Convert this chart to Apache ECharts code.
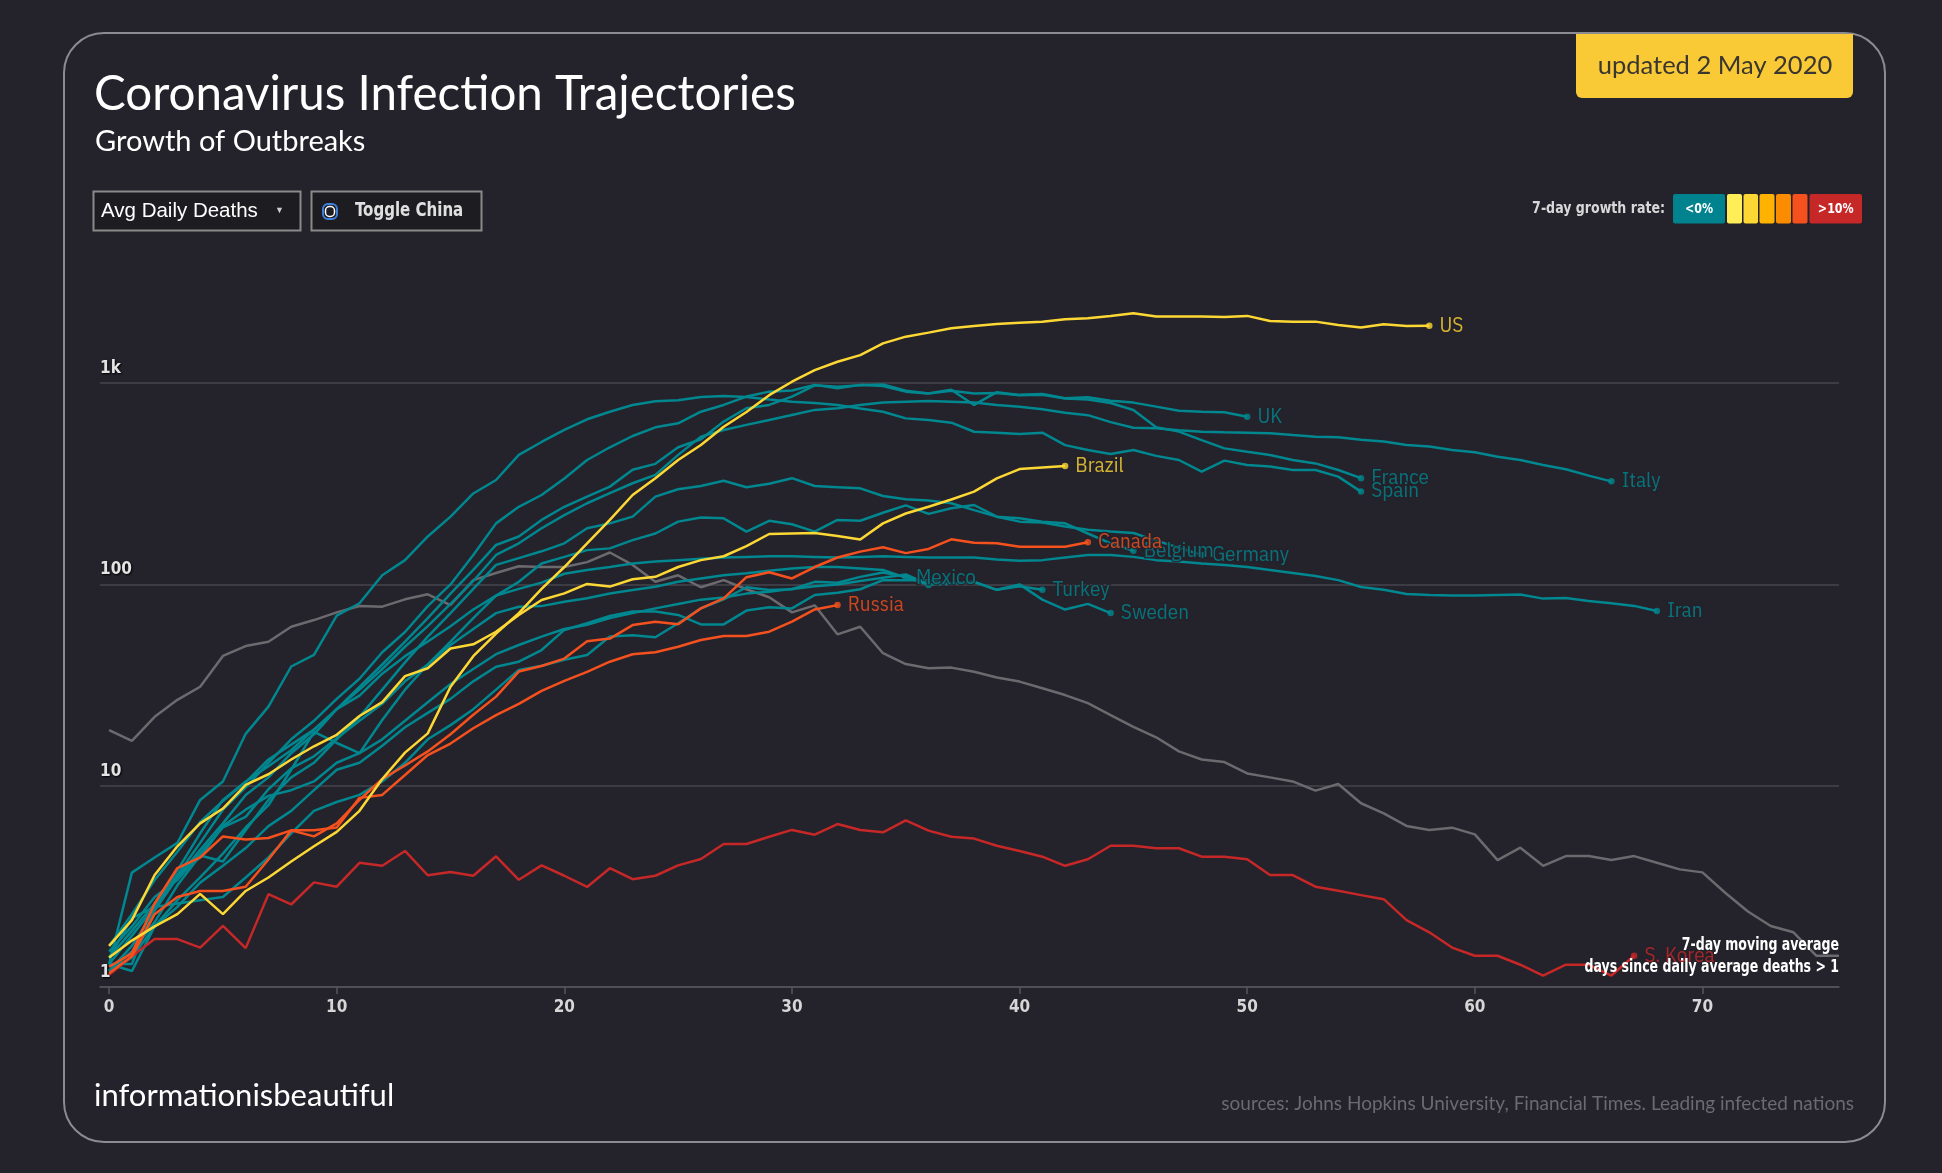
<!DOCTYPE html>
<html><head><meta charset="utf-8">
<style>html,body{margin:0;padding:0;background:#24222b;}#c{width:1942px;height:1173px;}</style>
<script src="https://cdn.jsdelivr.net/npm/echarts@6/dist/echarts.min.js"></script>
</head><body><div id="c"></div><script>
// ---- data: 7-day average daily deaths, index = days since average > 1 ----
const X_TICKS = [0, 10, 20, 30, 40, 50, 60, 70];
const Y_TICKS = [1, 10, 100, 1000];
const US = [1.4,1.7,2.0,2.3,2.9,2.3,3.0,3.5,4.2,5.0,5.9,7.5,10.8,14.6,18.2,31,44,57,72,95,122,160,209,278,337,415,493,607,719,871,1016,1161,1277,1377,1575,1701,1781,1872,1923,1967,1997,2020,2075,2099,2157,2223,2141,2141,2141,2127,2157,2034,2020,2020,1945,1888,1960,1923,1928];
const Brazil = [1.6,2.15,3.6,5.0,6.5,7.7,10.1,11.4,13.5,15.7,17.9,22.2,26,35,38.3,48,50.4,58.2,70.5,83.6,90.2,100.5,97.5,106,109,122,132,138,155,178,179,180,174,167,201,225,243,264,289,336,374,381,387];
const Canada = [1.17,1.42,2.3,2.8,3.0,3.0,3.15,4.3,6.0,5.6,6.5,8.5,10.8,12.6,14.8,18,22.5,27.7,36.9,39.3,42.8,52.2,53.8,62.8,65.3,63.4,76,85.3,108.6,115,107,122,136,145.5,153,143,150,167.5,161,160,154,154,154,162];
const Russia = [1.26,1.47,2.6,3.9,4.4,5.6,5.4,5.5,6.0,6.0,6.2,8.7,9.0,11.3,14.2,16.2,19.3,22.4,25.5,29.6,33.2,36.8,41.3,45,46,49,52.9,55.4,55.4,58.2,65.3,75.1,78.9];
const SKorea = [1.15,1.42,1.73,1.73,1.57,2.01,1.56,2.89,2.57,3.31,3.15,4.14,4.0,4.74,3.59,3.73,3.57,4.46,3.41,4.02,3.57,3.14,3.89,3.43,3.57,4.02,4.32,5.13,5.13,5.58,6.03,5.71,6.45,6.03,5.87,6.73,5.98,5.58,5.46,5.03,4.74,4.44,4.0,4.31,5.03,5.03,4.89,4.89,4.44,4.44,4.31,3.6,3.6,3.15,3.01,2.86,2.73,2.15,1.87,1.57,1.43,1.43,1.29,1.14,1.29,1.29,1.14,1.43];
const China = [18.9,16.7,22.0,26.7,31.0,44.1,49.4,51.9,61.6,66.5,72.6,78.1,77.5,84.3,89.3,79,105,114,123,122,122,129,144,125,103,111,96.8,105,94.6,86.3,72.6,78.7,56.5,61.6,45.5,40.2,38.3,38.6,36.8,34.5,32.9,30.5,28.2,25.7,22.4,19.6,17.4,14.8,13.5,13.1,11.5,11.0,10.5,9.45,10.2,8.18,7.29,6.31,6.03,6.19,5.73,4.27,4.92,4.0,4.47,4.47,4.27,4.47,4.14,3.84,3.71,2.94,2.37,2.01,1.87,1.43,1.43];
const Spain = [1.3,3.7,4.4,5.2,8.5,10.5,18.1,24.7,39.1,44.7,69.9,80.6,111,132,173,217,283,330,440,510,585,661,721,779,812,822,853,864,853,828,807,797,778,748,721,668,656,636,573,567,558,567,492,465,444,465,435,415,363,412,392,385,370,370,343,289];
const UK = [1.3,1.8,2.5,3.6,5.2,7.6,9.8,13,17,21,27,34,46,58,78,100,140,201,243,278,336,415,480,546,603,631,721,779,857,907,918,980,943,980,968,907,889,926,779,901,874,884,841,851,818,800,764,729,721,716,681];
const France = [1.2,1.6,2.4,3.5,4.8,6.5,9,11,14.5,18,24,31,40,52,68,90,118,157,173,209,243,273,306,371,397,480,526,644,750,779,857,975,960,975,985,917,888,917,888,892,871,876,838,828,797,735,604,574,521,474,456,439,415,399,370,337];
const Italy = [1.4,1.9,2.6,3.8,5.8,8.5,10.5,12.5,15,19,24,30,38,49,62,80,104,140,160,190,221,253,284,318,350,440,542,585,620,656,695,736,750,778,800,809,815,809,800,778,764,742,713,693,640,600,596,583,574,570,567,563,552,542,538,523,513,493,484,465,453,431,415,392,373,347,325];
const Belgium = [1.2,1.5,2.1,3.2,4.5,4.2,6,8.5,11,13,17,22,30,41,55,72,95,125,135,146,160,190,201,217,273,297,308,327,304,316,337,308,304,300,275,265,261,253,234,217,213,205,201,179,160,147];
const Germany = [1.3,1.2,2.0,2.7,3.5,4.6,6.2,8,12,18.5,16.3,14.5,21.2,30,40,52,68,88,103,127,137,148,151,166,179,205,215,213,183,207,199,183,209,207,227,247,224,239,248,217,205,203,194,187,183,180,165,152,140];
const Mexico = [1.5,2.0,2.8,3.4,4.6,6.2,7.0,9.6,12.2,14,17.2,21,25.5,33,40,50,60,72,77.5,78,82,85.4,90.2,93.7,97.4,103,107,111,113.5,117,120,122,122,120,118,108];
const Iran = [1.6,2.3,3.4,4.7,6.6,8.4,10.4,13.5,16,19,24,28,36,44,52,62,75,88,95,102,113,118,122,127,130,132,134,136,137,138,138,137,136,137,138,137,136,136,136,133,131,132,136,140,140,137,132,130,127,125,122,118,114,110,105,97,94,89.6,88.5,88,88,88.5,89,85,85.5,82.8,80.6,78.2,73.8];
const Turkey = [1.2,1.4,2.0,2.5,3.3,4.0,4.9,6.3,7.5,9.5,12,13,15.8,19.5,23,27,33,39,41.3,47.2,59.4,64.1,69.7,73.3,73.3,70.5,63.3,63.3,74.1,77,76,88.6,91,94.6,105,105,105,101,103,94,98,94];
const Other = [1.3,1.3,2.5,2.6,2.7,2.8,3.5,4.4,5.8,7.5,8.3,9.0,10.5,13,17,20,24,30,37.6,39.4,42.2,44.6,55.1,55.9,54.6,64.1,76.1,84.3,96.8,93.8,94.6,103,102,109,114.5,109,99.4];
const Sweden = [1.4,2.2,2.5,3.6,4.4,6.3,7.6,8.9,9.5,10.5,13,14.5,17,21,26,32,38,45,50,55,60,63,68,72,76,80,84,86,90,92,95,98,100,104,108,112,100,101,103,94,100,84,75,80,72];

// ---- styling (kept apart from the data) ----
const C = {teal:'#00878f', yellow:'#fdd835', orange:'#f4511e', red:'#c62828', gray:'#6b6a6e'};
const SERIES = [
  ['China', China, C.gray, false, false],
  ['Other', Other, C.teal, true, false],
  ['Sweden', Sweden, C.teal, true, true],
  ['Turkey', Turkey, C.teal, true, true],
  ['Mexico', Mexico, C.teal, true, true],
  ['Iran', Iran, C.teal, true, true],
  ['Germany', Germany, C.teal, true, true],
  ['Belgium', Belgium, C.teal, true, true],
  ['Italy', Italy, C.teal, true, true],
  ['France', France, C.teal, true, true],
  ['UK', UK, C.teal, true, true],
  ['Spain', Spain, C.teal, true, true],
  ['S. Korea', SKorea, C.red, true, true],
  ['Russia', Russia, C.orange, true, true],
  ['Canada', Canada, C.orange, true, true],
  ['Brazil', Brazil, C.yellow, true, true],
  ['US', US, C.yellow, true, true]
];
const BG = '#24222b';
const COND = "'Liberation Sans Narrow','DejaVu Sans Condensed','Roboto Condensed',Roboto,sans-serif";
const LABELF = "'IBM Plex Sans Condensed',Roboto,sans-serif";

const series = [];
SERIES.forEach(([name, arr, color, dot, label], k) => {
  series.push({
    type:'line', name, data: arr.map((v,i)=>[i,v]), showSymbol:false, silent:true,
    lineStyle:{color, width:2.5}, itemStyle:{color}, z: 2 + k*0.01, clip:true
  });
  if (dot) {
    const last = arr.length - 1;
    series.push({
      type:'scatter', name: name + ' end', data: [[last, arr[last]]], symbolSize:6.5, silent:true,
      itemStyle:{color}, z: 3,
      label:{show: label, position:'right', distance:7, formatter: name, color,
        fontFamily: LABELF, fontSize:21, textBorderColor: BG, textBorderWidth:3}
    });
  }
});

const chart = echarts.init(document.getElementById('c'), null, {renderer:'canvas'});
const T = (x,y,text,font,fill,extra,sx) => ({type:'text', x, y, silent:true, scaleX: sx || 1,
  style:Object.assign({text, font, fill, align:'left', verticalAlign:'middle'}, extra||{})});
const SW = [['#00838f',1673,52,'<0%'],['#ffee58',1727,15,''],['#fdd835',1743.5,14.5,''],['#ffb300',1759.5,15,''],['#fb8c00',1776,15,''],['#f4511e',1792.5,15,''],['#c62828',1809.5,52.5,'>10%']];
const graphics = [
  {type:'rect', silent:true, z:-1, shape:{x:64,y:33,width:1821,height:1109,r:40}, style:{fill:'none', stroke:'#8c8b91', lineWidth:2}},
  {type:'rect', silent:true, shape:{x:1576,y:34,width:277,height:64,r:[0,0,6,6]}, style:{fill:'#f9c936'}},
  T(1715,66,'updated 2 May 2020','25.5px Lato','#3a3630',{align:'center'}),
  T(94,95,'Coronavirus Infection Trajectories','47.5px Lato','#ffffff'),
  T(95,142,'Growth of Outbreaks','29px Lato','#ffffff'),
  {type:'rect', silent:true, shape:{x:93.5,y:191.5,width:207,height:39}, style:{fill:'#1d1c21', stroke:'#8a8a8a', lineWidth:2}},
  T(101,211.5,'Avg Daily Deaths','20.5px "Liberation Sans",Arial,sans-serif','#ffffff'),
  T(275,211,'▼','9px sans-serif','#cccccc'),
  {type:'rect', silent:true, shape:{x:311.5,y:191.5,width:170,height:39}, style:{fill:'#1d1c21', stroke:'#8a8a8a', lineWidth:2}},
  {type:'rect', silent:true, shape:{x:323,y:204,width:14,height:15,r:5}, style:{fill:'#1d1c21', stroke:'#3f7fdc', lineWidth:2}},
  {type:'rect', silent:true, shape:{x:325.5,y:206.5,width:9,height:10,r:4}, style:{fill:'none', stroke:'#ffffff', lineWidth:1.5}},
  T(355,211.5,'Toggle China','bold 19px '+COND,'#e0e0e0',null,0.88),
  T(1665,209,'7-day growth rate:','bold 16px '+COND,'#d8d8d8',{align:'right'},0.875),
  T(94,1096,'informationisbeautiful','31px Lato','#ffffff'),
  T(1854,1104,'sources: Johns Hopkins University, Financial Times. Leading infected nations','19px Lato','#6b6a70',{align:'right'}),
  T(1839,946,'7-day moving average','bold 17px '+COND,'#ffffff',{align:'right'},0.82),
  T(1839,968,'days since daily average deaths > 1','bold 17px '+COND,'#ffffff',{align:'right'},0.82)
];
SW.forEach(([col,x,w,t]) => {
  graphics.push({type:'rect', silent:true, shape:{x, y:194, width:w, height:29.5, r:2}, style:{fill:col}});
  if (t) graphics.push(T(x+w/2, 209, t, 'bold 14px '+COND, '#ffffff', {align:'center'}, 0.88));
});
graphics.forEach(g => { if (g.z === undefined) g.z = 10; });
graphics[0].z = -1;

chart.setOption({
  backgroundColor: BG,
  animation:false,
  grid:{left:100, right:103, top:181.8, bottom:186, containLabel:false},
  xAxis:{type:'value', min:-0.4, max:76,
    axisLine:{show:true, lineStyle:{color:'#58565e', width:1.5}},
    axisTick:{show:true, customValues:X_TICKS, length:7, lineStyle:{color:'#58565e', width:1.5}},
    axisLabel:{customValues:X_TICKS, color:'#d6d6d6', fontWeight:'bold', fontSize:17, fontFamily:COND, margin:12},
    splitLine:{show:false}},
  yAxis:{type:'log', logBase:10, min:1, max:10000,
    axisLine:{show:false}, axisTick:{show:false},
    splitLine:{show:true, showMaxLine:false, lineStyle:{color:'#46444c', width:1.5}},
    axisLabel:{inside:true, margin:0, verticalAlign:'bottom', padding:[0,0,6,0],
      customValues:Y_TICKS,
      formatter: v => v >= 1000 ? (v/1000)+'k' : String(v),
      color:'#e4e4e4', fontWeight:'bold', fontSize:17, fontFamily:COND,
      textShadowColor:'#000', textShadowBlur:2, textShadowOffsetX:1, textShadowOffsetY:1}},
  graphic: graphics,
  series
});
</script></body></html>
